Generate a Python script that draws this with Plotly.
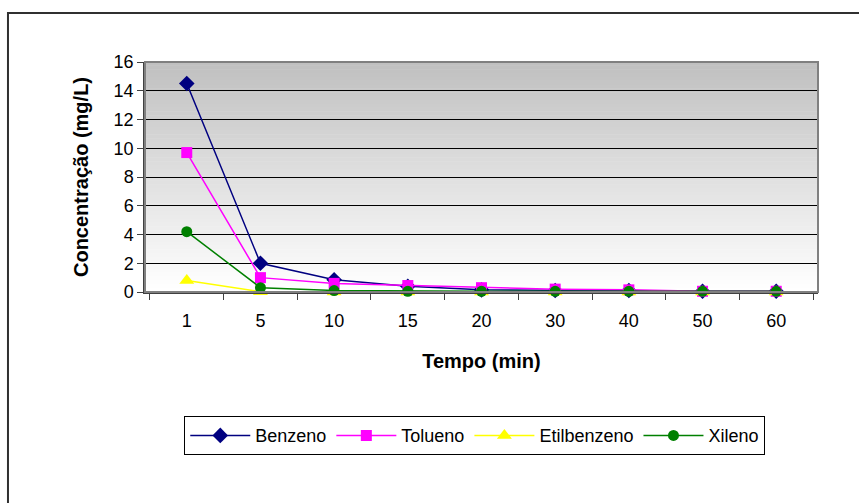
import plotly.graph_objects as go

# Sampling times (min) and concentrations (mg/L)
tempo = ["1", "5", "10", "15", "20", "30", "40", "50", "60"]
benzeno = [14.5, 2.0, 0.85, 0.4, 0.15, 0.1, 0.1, 0.05, 0.05]
tolueno = [9.7, 1.0, 0.6, 0.45, 0.3, 0.2, 0.15, 0.05, 0.05]
etilbenzeno = [0.8, 0.02, 0.0, 0.0, 0.0, 0.0, 0.0, 0.0, 0.0]
xileno = [4.2, 0.3, 0.1, 0.05, 0.05, 0.05, 0.05, 0.05, 0.05]
y_ticks = [0, 2, 4, 6, 8, 10, 12, 14, 16]

series = [
    ("Benzeno", benzeno, "#000080", "diamond", 12),
    ("Tolueno", tolueno, "#ff00ff", "square", 11),
    ("Etilbenzeno", etilbenzeno, "#ffff00", "triangle-up", 13),
    ("Xileno", xileno, "#008000", "circle", 11),
]

FONT = "Liberation Sans, Arial, sans-serif"

fig = go.Figure()
for name, vals, color, symbol, size in series:
    fig.add_trace(go.Scatter(
        x=tempo, y=vals, name=name, mode="lines+markers",
        line=dict(color=color, width=1.5),
        marker=dict(symbol=symbol, size=size, color=color, line=dict(width=0)),
        cliponaxis=False,
    ))

# Plot-area gradient: gray at the top fading to white at the bottom
shapes = []
n_bands = 60
top = (0xc0, 0xc0, 0xc0)
bottom = (0xff, 0xff, 0xff)
for i in range(n_bands):
    t = i / (n_bands - 1)
    c = tuple(round(top[k] + (bottom[k] - top[k]) * t) for k in range(3))
    y1 = 1 - i / n_bands
    y0 = 1 - (i + 1) / n_bands
    shapes.append(dict(
        type="rect", xref="x domain", yref="y domain",
        x0=0, x1=1, y0=y0, y1=y1 + 0.002,
        fillcolor="rgb(%d,%d,%d)" % c, line=dict(width=0), layer="below",
    ))

# Plot-area frame
shapes.append(dict(
    type="rect", xref="x domain", yref="y domain", x0=0, x1=1, y0=0, y1=1,
    line=dict(color="#808080", width=2), fillcolor="rgba(0,0,0,0)", layer="above",
))
# Chart frame
shapes.append(dict(
    type="rect", xref="paper", yref="paper",
    x0=-0.2036, x1=1.08, y0=-0.95, y1=1.213,
    line=dict(color="#303030", width=2), fillcolor="rgba(0,0,0,0)", layer="above",
))

fig.update_layout(
    width=859, height=503,
    margin=dict(l=145, r=41, t=62, b=211),
    paper_bgcolor="white",
    plot_bgcolor="white",
    font=dict(family=FONT, size=18, color="black"),
    shapes=shapes,
    showlegend=True,
    legend=dict(
        orientation="h", x=0.49, xanchor="center", y=-0.54, yanchor="top",
        bordercolor="black", borderwidth=1, bgcolor="white",
        font=dict(family=FONT, size=18, color="black"),
        itemwidth=60, tracegroupgap=0,
    ),
    xaxis=dict(
        type="category", categoryorder="array", categoryarray=tempo,
        tickson="boundaries", ticks="outside", ticklen=6, tickcolor="#404040",
        ticklabelstandoff=12,
        showline=True, linecolor="#404040", linewidth=1.5,
        showgrid=False, zeroline=False,
        tickfont=dict(family=FONT, size=18),
        title=dict(text="<b>Tempo (min)</b>", font=dict(family=FONT, size=20), standoff=24),
    ),
    yaxis=dict(
        range=[0, 16], tickvals=y_ticks, ticks="outside", ticklen=6, tickcolor="#404040",
        showline=True, linecolor="#404040", linewidth=1.5,
        showgrid=True, gridcolor="black", gridwidth=1, zeroline=False,
        tickfont=dict(family=FONT, size=18),
        title=dict(text="<b>Concentração (mg/L)</b>", font=dict(family=FONT, size=20), standoff=20),
    ),
)

fig.write_html("out.html")
